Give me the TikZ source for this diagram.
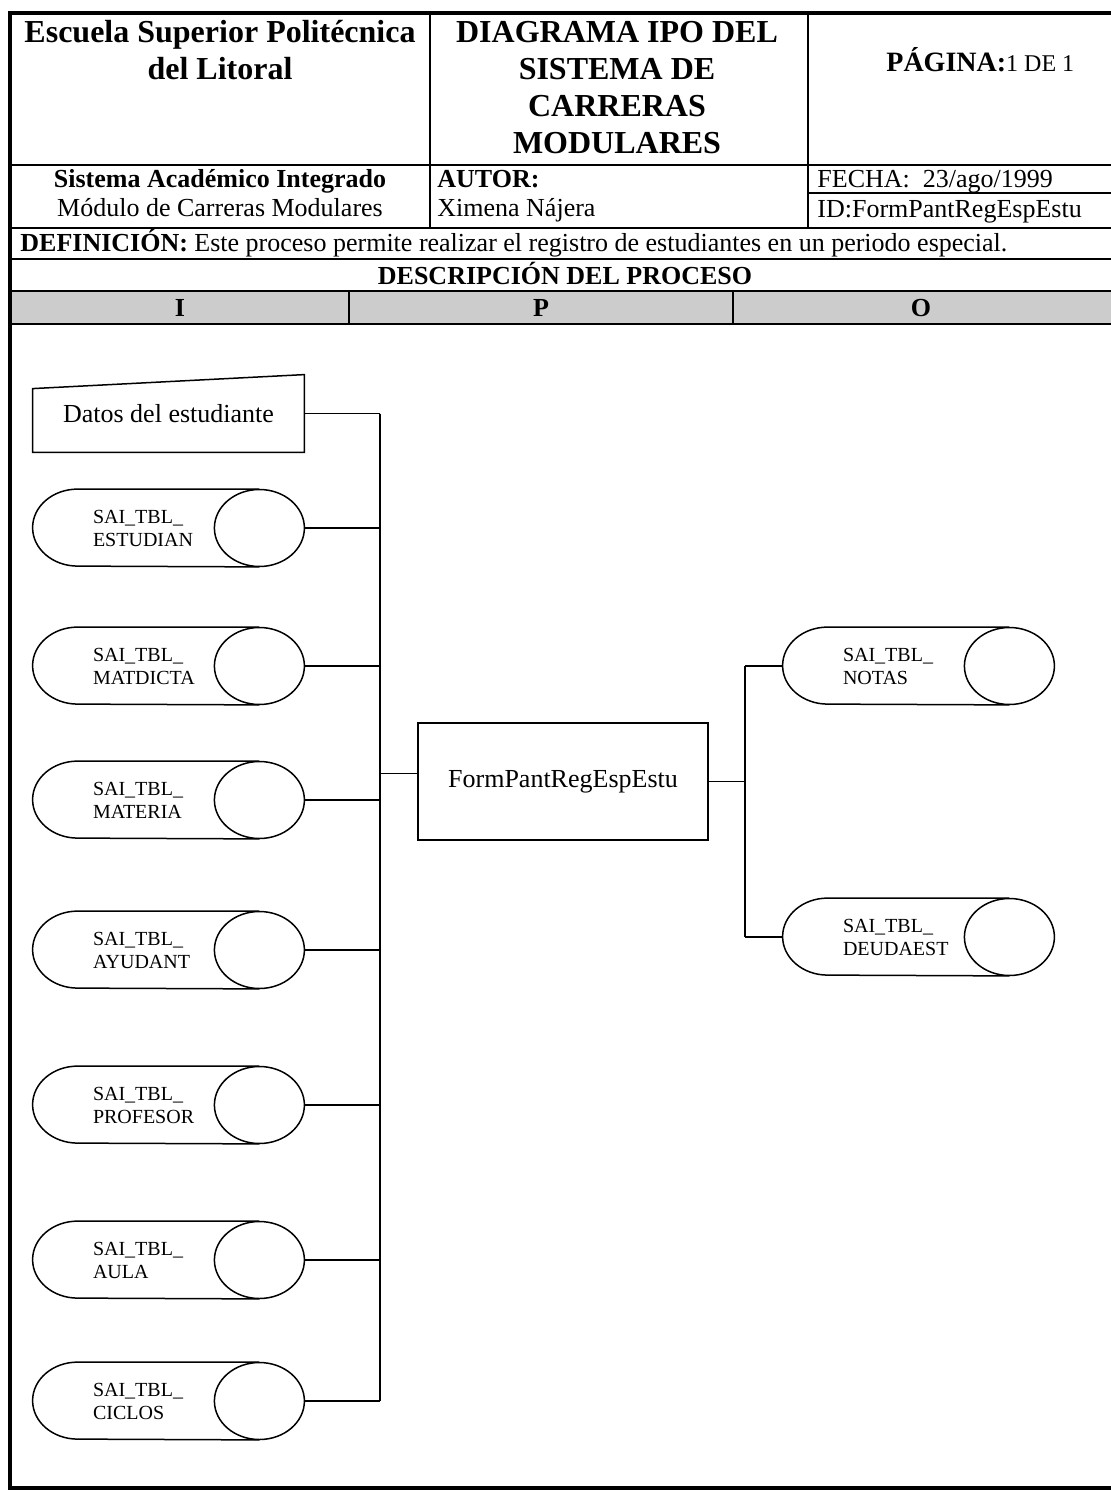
\documentclass[tikz,border=0pt]{standalone}
\usepackage{fontspec}
\setmainfont{Liberation Serif}
\usetikzlibrary{calc}
\begin{document}
\begin{tikzpicture}[x=0.5pt, y=-0.5pt,
  marco/.style={line width=2pt},
  linea/.style={line width=0.75pt},
  enc/.style={font=\fontsize{16}{18}\selectfont\bfseries, anchor=base, inner sep=0pt},
  txt/.style={font=\fontsize{13}{15}\selectfont, anchor=base west, inner sep=0pt},
  tabla/.style={minimum width=135.5pt, minimum height=38.5pt, inner sep=0pt,
    text width=75.5pt, align=left, font=\fontsize{10}{11.5}\selectfont},
  conector/.style={line width=0.7pt}]
  \useasboundingbox (0,0) rectangle (1111,1492);
  % Encabezado
  \fill[black!20] (10,291) rectangle (1116,324);
  \draw[marco] (10,13) rectangle (1116,1488);
  \draw[linea] (10,165) -- (1116,165);
  \draw[linea] (808,193) -- (1116,193);
  \draw[linea] (10,228) -- (1116,228);
  \draw[linea] (10,259) -- (1116,259);
  \draw[linea] (10,291) -- (1116,291);
  \draw[linea] (10,324) -- (1116,324);
  \draw[linea] (430,13) -- (430,228);
  \draw[linea] (808,13) -- (808,228);
  \draw[linea] (349,291) -- (349,324);
  \draw[linea] (733,291) -- (733,324);
  \node[enc] (esc1) at (220,43) {Escuela Superior Politécnica};
  \node[enc] (esc2) at (220,80) {del Litoral};
  \node[enc] (tit1) at (617,43) {DIAGRAMA IPO DEL};
  \node[enc] (tit2) at (617,80) {SISTEMA DE};
  \node[enc] (tit3) at (617,117) {CARRERAS};
  \node[enc] (tit4) at (617,154) {MODULARES};
  \node[enc, anchor=base west, font=\fontsize{14}{16}\selectfont\bfseries] (pag) at (886,72) {PÁGINA:{\mdseries\fontsize{12}{14}\selectfont 1 DE 1}};
  \node[txt, anchor=base, font=\fontsize{13}{15}\selectfont\bfseries] (sis) at (220,188) {Sistema Académico Integrado};
  \node[txt, anchor=base] (mod) at (220,217) {Módulo de Carreras Modulares};
  \node[txt, font=\fontsize{13}{15}\selectfont\bfseries] (aut) at (437,188) {AUTOR:};
  \node[txt] (nom) at (437,217) {Ximena Nájera};
  \node[txt] (fec) at (817,188) {FECHA:\ \ 23/ago/1999};
  \node[txt] (ide) at (817,218) {ID:FormPantRegEspEstu};
  \node[txt] (def) at (20,252) {\textbf{DEFINICIÓN:} Este proceso permite realizar el registro de estudiantes en un periodo especial.};
  \node[txt, anchor=base, font=\fontsize{13}{15}\selectfont\bfseries] (desc) at (565,285) {DESCRIPCIÓN DEL PROCESO};
  \node[txt, anchor=base, font=\fontsize{13}{15}\selectfont\bfseries] (colI) at (180,317) {I};
  \node[txt, anchor=base, font=\fontsize{13}{15}\selectfont\bfseries] (colP) at (541,317) {P};
  \node[txt, anchor=base, font=\fontsize{13}{15}\selectfont\bfseries] (colO) at (921,317) {O};
  % Entradas
  \node[minimum width=135.5pt, minimum height=38.5pt, inner sep=0pt, font=\fontsize{13}{15}\selectfont] (datos) at (168.5,413.5) {Datos del estudiante};
  \draw[linea] (datos.south west) -- (datos.south east) -- (datos.north east) -- ($(datos.north west)+(0,14)$) -- cycle;
  \node[tabla] (tEst) at (168.5,528) {SAI\_TBL\_\\ESTUDIAN};
  \node[tabla] (tMat) at (168.5,666) {SAI\_TBL\_\\MATDICTA};
  \node[tabla] (tMtr) at (168.5,800) {SAI\_TBL\_\\MATERIA};
  \node[tabla] (tAyu) at (168.5,950) {SAI\_TBL\_\\AYUDANT};
  \node[tabla] (tPro) at (168.5,1105) {SAI\_TBL\_\\PROFESOR};
  \node[tabla] (tAul) at (168.5,1260) {SAI\_TBL\_\\AULA};
  \node[tabla] (tCic) at (168.5,1401) {SAI\_TBL\_\\CICLOS};
  % Proceso
  \node[draw, linea, minimum width=145pt, minimum height=58.5pt, font=\fontsize{13}{15}\selectfont] (proc) at (563,781.5) {FormPantRegEspEstu};
  % Salidas
  \node[tabla] (tNot) at (918.5,666) {SAI\_TBL\_\\NOTAS};
  \node[tabla] (tDeu) at (918.5,937) {SAI\_TBL\_\\DEUDAEST};
  % Cilindros
  \foreach \t in {tEst,tMat,tMtr,tAyu,tPro,tAul,tCic,tNot,tDeu} {
    \draw[linea] ($(\t.north east)+(-45,0)$) -- ($(\t.north west)+(45,0)$)
      arc[start angle=90, end angle=270, x radius=22.5pt, y radius=19.25pt]
      -- ($(\t.south east)+(-45,0)$);
    \draw[linea] ($(\t.east)+(-45,0)$) ellipse[x radius=22.5pt, y radius=19.25pt];
  }
  % Conectores
  \coordinate (busL) at (380,0);
  \coordinate (busR) at (745,0);
  \foreach \t in {datos,tEst,tMat,tMtr,tAyu,tPro,tAul,tCic}
    \draw[conector] (\t.east) -- (\t.east -| busL);
  \draw[conector] (datos.east -| busL) -- (tCic.east -| busL);
  \draw[conector] ([yshift=4pt]proc.west -| busL) -- ([yshift=4pt]proc.west);
  \draw[conector] (proc.east) -- (proc.east -| busR);
  \draw[conector] (tNot.west -| busR) -- (tDeu.west -| busR);
  \draw[conector] (tNot.west -| busR) -- (tNot.west);
  \draw[conector] (tDeu.west -| busR) -- (tDeu.west);
\end{tikzpicture}
\end{document}
